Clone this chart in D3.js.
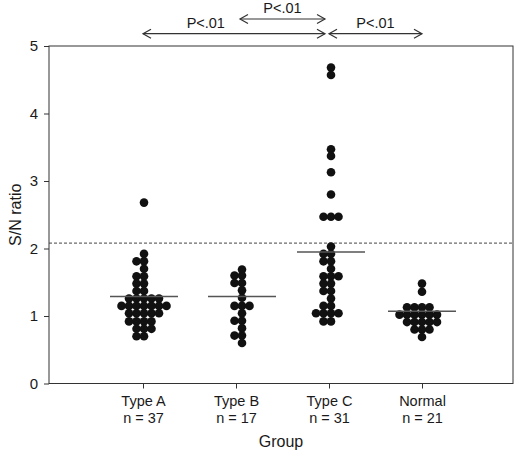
<!DOCTYPE html>
<html>
<head>
<meta charset="utf-8">
<script src="https://cdn.jsdelivr.net/npm/d3@7"></script>
<style>
  html, body { margin: 0; padding: 0; background: #fff; }
  svg { display: block; font-family: "Liberation Sans", Arial, sans-serif; }
</style>
</head>
<body>
<svg id="chart" width="524" height="455"></svg>
<script>
// ---- data ----
const categories = ["Type A", "Type B", "Type C", "Normal"];
const nLabels = ["n = 37", "n = 17", "n = 31", "n = 21"];

const typeA = [2.68, 1.92, 1.81, 1.81, 1.70, 1.59, 1.59, 1.48, 1.48, 1.37, 1.37,
  1.26, 1.26, 1.26, 1.26, 1.26,
  1.15, 1.15, 1.15, 1.15, 1.15, 1.15, 1.15,
  1.04, 1.04, 1.04, 1.04, 1.04,
  0.92, 0.92, 0.92, 0.92,
  0.81, 0.81, 0.81, 0.70, 0.70];
const typeB = [1.69, 1.60, 1.60, 1.49, 1.49, 1.38, 1.27, 1.15, 1.15, 1.15,
  1.04, 0.93, 0.93, 0.82, 0.71, 0.71, 0.60];
const typeC = [4.68, 4.57, 3.47, 3.37, 3.13, 2.80, 2.47, 2.47, 2.47, 2.03,
  1.92, 1.92, 1.81, 1.81, 1.70, 1.59, 1.59, 1.59, 1.48, 1.48, 1.37, 1.37,
  1.26, 1.15, 1.15, 1.04, 1.04, 1.04, 1.04, 0.92, 0.92];
const normal = [1.48, 1.36, 1.13, 1.13, 1.13, 1.13,
  1.02, 1.02, 1.02, 1.02, 1.02, 1.02,
  0.91, 0.91, 0.91, 0.91, 0.91, 0.80, 0.80, 0.80, 0.69];
const seriesValues = [typeA, typeB, typeC, normal];
const means = [1.29, 1.29, 1.95, 1.07];
const cutoff = 2.08;
const yTicks = [0, 1, 2, 3, 4, 5];
const comparisons = [
  { from: "Type A", to: "Type C", label: "P<.01" },
  { from: "Type B", to: "Type C", label: "P<.01" },
  { from: "Type C", to: "Normal", label: "P<.01" }
];

// ---- layout / style ----
const frame = { left: 49, right: 513, top: 46, bottom: 383.5 };
const colShift = [1, 6, 2, 0];          // horizontal nudge of each dot column
const dotR = 4.3, dotStep = 7.5;
const meanHalf = 34;
const ink = "#1a1a1a", lineCol = "#333";
const annStyle = [
  { row: 0, insetL: 0, insetR: 4, frac: 0.345 },
  { row: 1, insetL: 4, insetR: 4, frac: 0.5 },
  { row: 0, insetL: 0, insetR: 0, frac: 0.5 }
];
const rowY = [33.7, 19];
const rowLabelY = [28.3, 13.3];

const svg = d3.select("#chart");

const x = d3.scalePoint().domain(categories).range([50, 515]).padding(1);
const y = d3.scaleLinear().domain([0, 5]).range([frame.bottom, frame.top]);

// frame
svg.append("rect")
  .attr("x", frame.left).attr("y", frame.top)
  .attr("width", frame.right - frame.left).attr("height", frame.bottom - frame.top)
  .attr("fill", "none").attr("stroke", lineCol).attr("stroke-width", 1);

// y axis
const yAxis = svg.append("g")
  .attr("transform", `translate(${frame.left},0)`)
  .call(d3.axisLeft(y).tickValues(yTicks).tickFormat(d3.format("d")).tickSize(5).tickPadding(6));
yAxis.select(".domain").remove();
yAxis.selectAll("line").attr("stroke", lineCol);
yAxis.selectAll("text").attr("font-size", 15).attr("fill", ink)
  .style("font-family", "'Liberation Sans', Arial, sans-serif");

// x axis
const xAxis = svg.append("g")
  .attr("transform", `translate(0,${frame.bottom})`)
  .call(d3.axisBottom(x).tickSize(5).tickFormat(""));
xAxis.select(".domain").remove();
xAxis.selectAll("line").attr("stroke", lineCol);
const xl = xAxis.selectAll(".tick").append("text")
  .attr("text-anchor", "middle").attr("fill", ink).attr("font-size", 14.5)
  .style("font-family", "'Liberation Sans', Arial, sans-serif");
xl.append("tspan").attr("x", 0).attr("y", 22).text(d => d);
xl.append("tspan").attr("x", 0).attr("y", 39.5).text((d, i) => nLabels[i]);

// axis titles
svg.append("text")
  .attr("x", (frame.left + frame.right) / 2).attr("y", 447)
  .attr("text-anchor", "middle").attr("font-size", 16).attr("fill", ink)
  .text("Group");
svg.append("text")
  .attr("transform", `translate(21,${(frame.top + frame.bottom) / 2}) rotate(-90)`)
  .attr("text-anchor", "middle").attr("font-size", 16).attr("fill", ink)
  .text("S/N ratio");

// cutoff dashed line
svg.append("line")
  .attr("x1", frame.left).attr("x2", frame.right)
  .attr("y1", y(cutoff)).attr("y2", y(cutoff))
  .attr("stroke", "#444").attr("stroke-width", 1).attr("stroke-dasharray", "3,2");

// dots (row-binned dot plot)
const dots = [];
seriesValues.forEach((vals, gi) => {
  const rows = d3.groups(vals, v => v.toFixed(2));
  rows.forEach(([key, arr]) => {
    const n = arr.length;
    arr.forEach((v, i) => {
      dots.push({ cat: categories[gi], gi, v, off: i - Math.floor(n / 2) });
    });
  });
});
svg.append("g").selectAll("circle").data(dots).join("circle")
  .attr("cx", d => x(d.cat) + colShift[d.gi] + d.off * dotStep)
  .attr("cy", d => y(d.v))
  .attr("r", dotR)
  .attr("fill", "#111");

// mean lines
svg.append("g").selectAll("line").data(means).join("line")
  .attr("x1", (d, i) => x(categories[i]) + colShift[i] - meanHalf)
  .attr("x2", (d, i) => x(categories[i]) + colShift[i] + meanHalf)
  .attr("y1", d => y(d)).attr("y2", d => y(d))
  .attr("stroke", "#555").attr("stroke-width", 1.5);

// comparison arrows
const ann = svg.append("g");
comparisons.forEach((c, i) => {
  const s = annStyle[i];
  const x1 = x(c.from) + s.insetL, x2 = x(c.to) - s.insetR;
  const yy = rowY[s.row];
  const g = ann.append("g").attr("stroke", lineCol).attr("stroke-width", 1.2).attr("fill", "none");
  g.append("line").attr("x1", x1).attr("x2", x2).attr("y1", yy).attr("y2", yy);
  g.append("path").attr("d", `M${x1 + 8},${yy - 4.5} L${x1},${yy} L${x1 + 8},${yy + 4.5}`);
  g.append("path").attr("d", `M${x2 - 8},${yy - 4.5} L${x2},${yy} L${x2 - 8},${yy + 4.5}`);
  ann.append("text")
    .attr("x", x1 + (x2 - x1) * s.frac).attr("y", rowLabelY[s.row])
    .attr("text-anchor", "middle").attr("font-size", 14.5).attr("fill", ink)
    .text(c.label);
});
</script>
</body>
</html>
